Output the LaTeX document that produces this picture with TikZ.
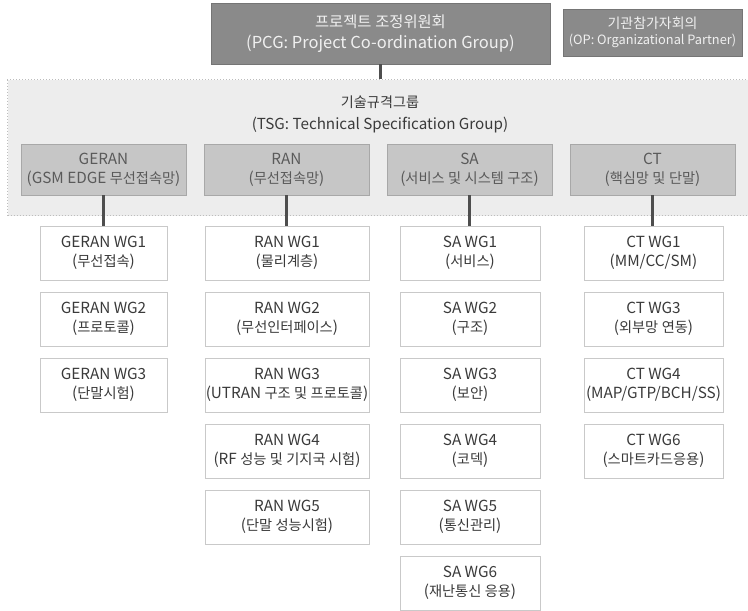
\documentclass[tikz,border=0pt]{standalone}
\usepackage{fontspec}
\setmainfont{Noto Sans CJK KR}
\newfontfamily\hgfam[Scale=0.93]{Noto Sans CJK KR}
\XeTeXinterchartokenstate=1
\newXeTeXintercharclass\HgClass
\count255="AC00
\loop \XeTeXcharclass\count255=\HgClass \ifnum\count255<"D7A3 \advance\count255 by 1 \repeat
\XeTeXinterchartoks 0 \HgClass = {\begingroup\hgfam}
\XeTeXinterchartoks 4095 \HgClass = {\begingroup\hgfam}
\XeTeXinterchartoks \HgClass 0 = {\endgroup}
\XeTeXinterchartoks \HgClass 4095 = {\endgroup}
\begin{document}
\begin{tikzpicture}[x=1pt,y=-1pt,
  every node/.style={inner sep=0pt,align=center},
  topbox/.style={rectangle,fill=topgray,draw=topgray!85!black,line width=0.6pt,text=white!94!black,
    font=\fontsize{16.5}{21}\selectfont},
  subbox/.style={rectangle,fill=subgray,draw=subgray!85!black,line width=0.6pt,text=subtext,
    minimum width=165,minimum height=51,font=\fontsize{15.3}{19}\selectfont},
  wgbox/.style={rectangle,fill=white,draw=wgborder,line width=0.8pt,text=wgtext,
    minimum height=54,font=\fontsize{15.3}{19}\selectfont},
  link/.style={draw=linkgray,line width=2.6pt}]
\definecolor{topgray}{HTML}{8A8A8A}
\definecolor{subgray}{HTML}{C6C6C6}
\definecolor{subtext}{HTML}{5A5A5A}
\definecolor{wgborder}{HTML}{C9C9C9}
\definecolor{wgtext}{HTML}{3A3A3A}
\definecolor{linkgray}{HTML}{4E4E4E}
\definecolor{tsgfill}{HTML}{EDEDED}
\definecolor{tsgborder}{HTML}{BDBDBD}
\useasboundingbox (0,0) rectangle (748,611);

% top level
\node[topbox,minimum width=339,minimum height=61] (pcg) at (380.5,33.5)
  {프로젝트 조정위원회\\(PCG: Project Co-ordination Group)};
\node[topbox,minimum width=179,minimum height=47,font=\fontsize{12.8}{16}\selectfont] (op) at (652.5,32.5)
  {{\fontsize{15}{16}\selectfont 기관참가자회의}\\(OP: Organizational Partner)};

% TSG area
\node[rectangle,fill=tsgfill,draw=tsgborder,dotted,line width=1pt,minimum width=745,minimum height=136,
  anchor=north west] (tsg) at (7,79) {};
\node[text=wgtext,font=\fontsize{15.2}{22}\selectfont] (tsgt) at (380,114)
  {기술규격그룹\\(TSG: Technical Specification Group)};

\draw[link] (pcg.south) -- (pcg.south |- tsg.north);

% sub groups
\node[subbox] (geran) at (103.5,169.5) {GERAN\\(GSM EDGE 무선접속망)};
\node[subbox] (ran) at (286.5,169.5) {RAN\\(무선접속망)};
\node[subbox] (sa) at (469.5,169.5) {SA\\(서비스 및 시스템 구조)};
\node[subbox] (ct) at (652.5,169.5) {CT\\(핵심망 및 단말)};

% GERAN WGs
\node[wgbox,minimum width=127] (g1) at (103.5,253) {GERAN WG1\\(무선접속)};
\node[wgbox,minimum width=127] (g2) at (103.5,319) {GERAN WG2\\(프로토콜)};
\node[wgbox,minimum width=127] (g3) at (103.5,385) {GERAN WG3\\(단말시험)};

% RAN WGs
\node[wgbox,minimum width=164] (r1) at (287,253) {RAN WG1\\(물리계층)};
\node[wgbox,minimum width=164] (r2) at (287,319) {RAN WG2\\(무선인터페이스)};
\node[wgbox,minimum width=164] (r3) at (287,385) {RAN WG3\\(UTRAN 구조 및 프로토콜)};
\node[wgbox,minimum width=164] (r4) at (287,451) {RAN WG4\\(RF 성능 및 기지국 시험)};
\node[wgbox,minimum width=164] (r5) at (287,517) {RAN WG5\\(단말 성능시험)};

% SA WGs
\node[wgbox,minimum width=140] (s1) at (470,253) {SA WG1\\(서비스)};
\node[wgbox,minimum width=140] (s2) at (470,319) {SA WG2\\(구조)};
\node[wgbox,minimum width=140] (s3) at (470,385) {SA WG3\\(보안)};
\node[wgbox,minimum width=140] (s4) at (470,451) {SA WG4\\(코덱)};
\node[wgbox,minimum width=140] (s5) at (470,517) {SA WG5\\(통신관리)};
\node[wgbox,minimum width=140] (s6) at (470,583) {SA WG6\\(재난통신 응용)};

% CT WGs
\node[wgbox,minimum width=139] (c1) at (653.5,253) {CT WG1\\(MM/CC/SM)};
\node[wgbox,minimum width=139] (c3) at (653.5,319) {CT WG3\\(외부망 연동)};
\node[wgbox,minimum width=139] (c4) at (653.5,385) {CT WG4\\(MAP/GTP/BCH/SS)};
\node[wgbox,minimum width=139] (c6) at (653.5,451) {CT WG6\\(스마트카드응용)};

% connectors
\draw[link] (geran.south) -- (geran.south |- g1.north);
\draw[link] (ran.south) -- (ran.south |- r1.north);
\draw[link] (sa.south) -- (sa.south |- s1.north);
\draw[link] (ct.south) -- (ct.south |- c1.north);
\end{tikzpicture}
\end{document}
